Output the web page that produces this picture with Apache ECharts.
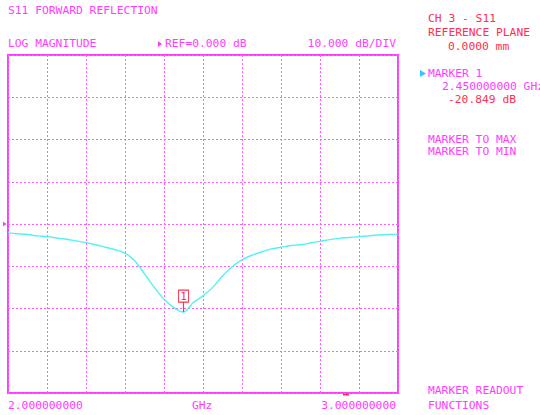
<!DOCTYPE html>
<html>
<head>
<meta charset="utf-8">
<script src="https://cdn.jsdelivr.net/npm/echarts@6/dist/echarts.min.js"></script>
<style>
  html, body { margin: 0; padding: 0; background: #ffffff; }
  #chart { width: 540px; height: 415px; }
</style>
</head>
<body>
<div id="chart"></div>
<script>
// S11 sweep, 2.0 - 3.0 GHz, log magnitude (dB)
const freqGHz = [2.000, 2.025, 2.050, 2.075, 2.100, 2.125, 2.150, 2.175, 2.200, 2.225,
                 2.250, 2.275, 2.300, 2.325, 2.350, 2.375, 2.400, 2.425, 2.440, 2.450,
                 2.460, 2.475, 2.500, 2.525, 2.550, 2.575, 2.600, 2.625, 2.650, 2.675,
                 2.700, 2.725, 2.750, 2.775, 2.800, 2.825, 2.850, 2.875, 2.900, 2.925,
                 2.950, 2.975, 3.000];
const s11dB   = [-2.1, -2.3, -2.5, -2.8, -3.0, -3.3, -3.6, -4.0, -4.4, -4.9,
                 -5.5, -6.1, -6.9, -8.7, -11.8, -15.0, -17.8, -19.8, -20.6, -20.849,
                 -20.2, -18.6, -17.0, -15.0, -12.3, -10.1, -8.5, -7.4, -6.6, -5.9,
                 -5.5, -5.1, -4.9, -4.5, -4.1, -3.7, -3.4, -3.2, -3.0, -2.8,
                 -2.6, -2.5, -2.45];

// Display setup
const startGHz = 2.0, stopGHz = 3.0, freqStep = 0.1;
const refLevel = 0, dbPerDiv = 10, divisions = 8;
const markerGHz = 2.45, markerDb = -20.849;

const MAGENTA = '#ff3cff';
const GRIDPINK = '#ff5cff';
const RED = '#ff2f4f';
const TRACE = '#55f0f0';
const FONT = '"DejaVu Sans Mono", "Liberation Mono", monospace';
const FS = 11.3;

const yMin = refLevel - dbPerDiv * divisions / 2;
const yMax = refLevel + dbPerDiv * divisions / 2;

const plot = { left: 8, top: 55, width: 390, height: 338 };

function txt(str, x, capTop, color, align) {
  return {
    type: 'text', x: x, y: capTop - 2, silent: true,
    style: { text: str, fill: color, font: FS + 'px ' + FONT,
             textAlign: align || 'left', textVerticalAlign: 'top' }
  };
}

const refY = plot.top + plot.height * (yMax - refLevel) / (yMax - yMin);

const graphics = [
  txt('S11 FORWARD REFLECTION', 8, 7, MAGENTA),
  txt('LOG MAGNITUDE', 8, 40, MAGENTA),
  { type: 'polygon', silent: true, shape: { points: [[158, 41], [162, 44], [158, 47]] }, style: { fill: MAGENTA } },
  txt('REF=' + refLevel.toFixed(3) + ' dB', 165, 40, MAGENTA),
  txt(dbPerDiv.toFixed(3) + ' dB/DIV', 396, 40, MAGENTA, 'right'),
  txt('CH 3 - S11', 428, 15, RED),
  txt('REFERENCE PLANE', 428, 29, RED),
  txt('0.0000 mm', 448, 43, RED),
  { type: 'polygon', silent: true, shape: { points: [[420, 70], [426, 73.5], [420, 77]] }, style: { fill: '#33c8ff' } },
  txt('MARKER 1', 428, 70, MAGENTA),
  txt(markerGHz.toFixed(9) + ' GHz', 442, 83, MAGENTA),
  txt(markerDb.toFixed(3) + ' dB', 448, 96, RED),
  txt('MARKER TO MAX', 428, 136, MAGENTA),
  txt('MARKER TO MIN', 428, 148, MAGENTA),
  txt('MARKER READOUT', 428, 387, MAGENTA),
  txt('FUNCTIONS', 428, 402, MAGENTA),
  txt(startGHz.toFixed(9), 8, 402, MAGENTA),
  txt('GHz', 192, 402, MAGENTA),
  txt(stopGHz.toFixed(9), 396, 402, MAGENTA, 'right'),
  // reference-level pointer on the left edge
  { type: 'polygon', silent: true, shape: { points: [[3, refY - 2.5], [6.5, refY], [3, refY + 2.5]] }, style: { fill: MAGENTA } },
  // sweep position indicator under the frame
  { type: 'rect', silent: true, shape: { x: 343, y: 393.5, width: 6, height: 2 }, style: { fill: RED } }
];

const chart = echarts.init(document.getElementById('chart'), null, { renderer: 'svg' });
chart.setOption({
  backgroundColor: '#ffffff',
  animation: false,
  grid: { left: plot.left, top: plot.top, width: plot.width, height: plot.height,
          show: true, borderColor: MAGENTA, borderWidth: 2, backgroundColor: 'transparent' },
  xAxis: {
    type: 'value', min: startGHz, max: stopGHz, interval: freqStep,
    axisLine: { show: false }, axisTick: { show: false }, axisLabel: { show: false },
    splitLine: { show: true, lineStyle: { color: GRIDPINK, width: 1, type: [2, 2] } }
  },
  yAxis: {
    type: 'value', min: yMin, max: yMax, interval: dbPerDiv,
    axisLine: { show: false }, axisTick: { show: false }, axisLabel: { show: false },
    splitLine: { show: true, lineStyle: { color: GRIDPINK, width: 1, type: [2, 2] } }
  },
  series: [{
    type: 'line',
    data: freqGHz.map((f, i) => [f, s11dB[i]]),
    showSymbol: false,
    smooth: 0.3,
    lineStyle: { color: TRACE, width: 1.4 },
    z: 3,
    markPoint: {
      silent: true,
      data: [
        { coord: [markerGHz, markerDb], symbol: 'rect', symbolSize: [1.2, 10], symbolOffset: [0, -5],
          itemStyle: { color: RED }, label: { show: false } },
        { coord: [markerGHz, markerDb], symbol: 'rect', symbolSize: [10, 12], symbolOffset: [0, -16],
          itemStyle: { color: '#ffffff', borderColor: RED, borderWidth: 1 },
          label: { show: true, position: 'inside', formatter: '1', color: RED,
                   fontFamily: 'DejaVu Sans Mono', fontSize: 11 } }
      ]
    }
  }],
  graphic: graphics
});
</script>
</body>
</html>
